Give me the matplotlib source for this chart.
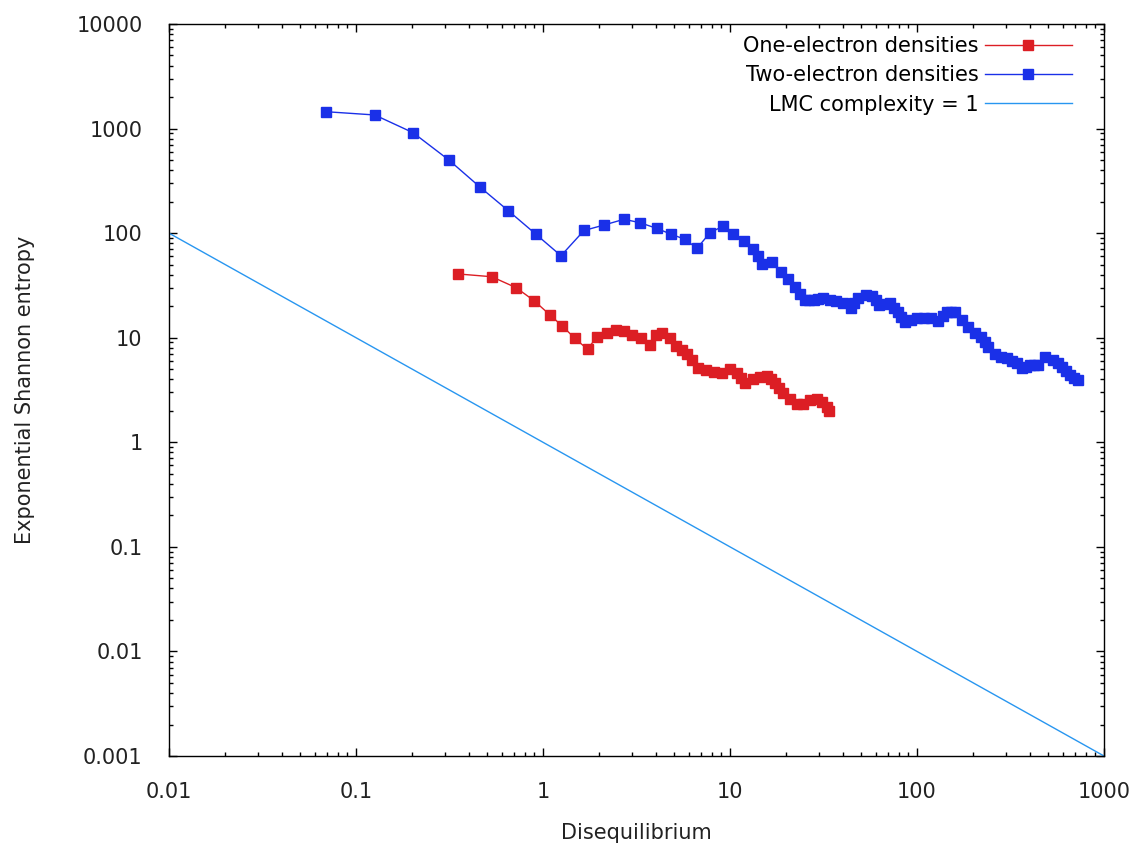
import numpy as np
import matplotlib
matplotlib.use('Agg')
import matplotlib.pyplot as plt
from matplotlib.ticker import LogLocator, NullFormatter

# one-electron densities (red)
one_x = [0.352, 0.532, 0.718, 0.896, 1.09, 1.27, 1.48, 1.73, 1.94, 2.20,
         2.46, 2.71, 2.99, 3.34, 3.73, 4.02, 4.33, 4.78, 5.14, 5.54,
         5.89, 6.27, 6.77, 7.44, 8.21, 9.03, 10.0, 10.9, 11.5, 12.0, 13.3,
         14.5, 15.8, 16.6, 17.4, 18.3, 19.2, 20.9, 22.8, 24.6, 26.8, 29.2, 31.0,
         33.0, 33.9]
one_y = [40.7, 38.3, 30.1, 22.6, 16.5, 12.9, 9.87, 7.75, 10.2, 11.2,
         11.85, 11.6, 10.7, 9.94, 8.51, 10.5, 11.0, 9.87, 8.42, 7.55,
         6.98, 6.12, 5.08, 4.86, 4.75, 4.57, 4.97, 4.55, 4.1, 3.69, 4.07,
         4.21, 4.35, 4.0, 3.69, 3.3, 2.96, 2.59, 2.32, 2.30, 2.54, 2.62, 2.45,
         2.18, 1.99]

# two-electron densities (blue)
two_x = [0.0691, 0.126, 0.202, 0.314, 0.46, 0.652, 0.914, 1.248, 1.657, 2.12,
         2.71, 3.30, 4.05, 4.82, 5.74, 6.66, 7.82, 9.12, 10.4, 11.9,
         13.3, 14.1, 14.9, 16.7, 18.7, 20.5, 22.4, 23.8, 25.2, 26.6, 28.1, 29.7, 31.3, 34.3,
         36.9, 40.0, 44.1, 46.3, 48.5, 53.4, 57.5, 60.0, 62.3, 66.6, 71.7, 75.3, 79.1,
         82.6, 86.3, 92.9, 100, 109, 119, 130, 137, 144, 152, 160, 173, 187,
         204, 219, 230, 240, 261, 281, 303, 322, 343, 364, 383, 402,
         422, 444, 484, 534, 568, 596, 627, 658, 691, 730]
two_y = [1450, 1349, 913, 500, 276, 164, 98, 60.8, 106, 119.6,
         135.7, 125.9, 111.2, 98, 87.3, 71.6, 101, 116, 98.1, 84.1,
         71.3, 60.0, 50.7, 52.4, 42.8, 36.4, 30.7, 26.4, 22.7, 22.7, 22.7, 23.2, 23.8, 22.9,
         22.2, 21.3, 19.4, 21.7, 24.2, 25.6, 25.3, 22.8, 20.6, 21.0, 21.3, 19.4, 17.7,
         15.8, 14.1, 14.8, 15.3, 15.3, 15.3, 14.4, 16.0, 17.7, 17.7, 17.7, 14.8, 12.7,
         11.2, 10.2, 9.2, 8.24, 7.06, 6.61, 6.36, 5.99, 5.67, 5.08, 5.3, 5.48,
         5.48, 5.48, 6.54, 6.12, 5.79, 5.25, 4.80, 4.40, 4.16, 3.98]

# LMC complexity = 1 reference line
lmc_x = [0.01, 1000]
lmc_y = [100, 0.001]

x_ticks = [0.01, 0.1, 1, 10, 100, 1000]
x_labels = ['0.01', '0.1', '1', '10', '100', '1000']
y_ticks = [0.001, 0.01, 0.1, 1, 10, 100, 1000, 10000]
y_labels = ['0.001', '0.01', '0.1', '1', '10', '100', '1000', '10000']

plt.rcParams['font.family'] = ['DejaVu Sans']
fig = plt.figure(figsize=(11.38, 8.46), dpi=100)
ax = fig.add_axes([169/1138, 1 - 756/846, (1104-169)/1138, (756-24)/846])

ax.plot(one_x, one_y, color='#dc1e24', lw=1, marker='s', ms=6.5, mec='#dc1e24',
        label='One-electron densities')
ax.plot(two_x, two_y, color='#1a30e8', lw=1, marker='s', ms=6.5, mec='#1a30e8',
        label='Two-electron densities')
ax.plot(lmc_x, lmc_y, color='#2896f0', lw=1, label='LMC complexity = 1')

ax.set_xscale('log')
ax.set_yscale('log')
ax.set_xlim(0.01, 1000)
ax.set_ylim(0.001, 10000)
ax.set_xticks(x_ticks)
ax.set_xticklabels(x_labels)
ax.set_yticks(y_ticks)
ax.set_yticklabels(y_labels)
ax.xaxis.set_minor_locator(LogLocator(base=10, subs=np.arange(2, 10), numticks=20))
ax.yaxis.set_minor_locator(LogLocator(base=10, subs=np.arange(2, 10), numticks=20))
ax.xaxis.set_minor_formatter(NullFormatter())
ax.yaxis.set_minor_formatter(NullFormatter())

ax.tick_params(which='both', direction='in', top=True, right=True,
               labelsize=15, labelcolor='#222222', width=1)
ax.tick_params(which='major', length=6, pad=19)
ax.tick_params(which='minor', length=3)
for s in ax.spines.values():
    s.set_linewidth(1)

ax.set_xlabel('Disequilibrium', fontsize=15, color='#222222', labelpad=15)
ax.set_ylabel('Exponential Shannon entropy', fontsize=15, color='#222222', labelpad=30)

ax.legend(loc='upper right', bbox_to_anchor=(1072/1138, 1 - 36/846),
          bbox_transform=fig.transFigure, frameon=False, markerfirst=False,
          fontsize=15, handlelength=4.2, handletextpad=0.3, labelspacing=0.45,
          borderaxespad=0, borderpad=0, numpoints=1)

fig.savefig('out.png', dpi=100)
